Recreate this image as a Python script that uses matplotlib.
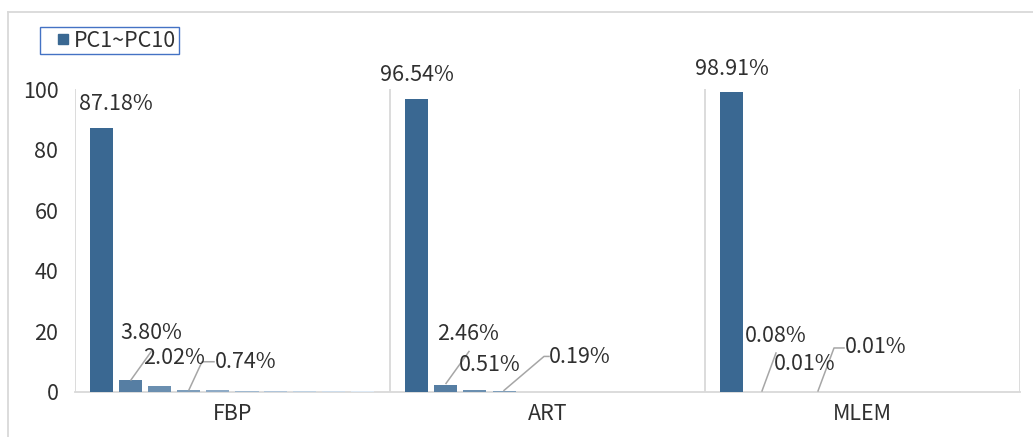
import numpy as np
import matplotlib.pyplot as plt
from matplotlib.lines import Line2D

plt.rcParams['font.family'] = ['Noto Sans CJK SC', 'DejaVu Sans']

# 数据
methods = ['FBP', 'ART', 'MLEM']
fbp = [87.18, 3.80, 2.02, 0.74, 0.55, 0.45, 0.40, 0.35, 0.30, 0.25]
art = [96.54, 2.46, 0.51, 0.19, 0.10, 0.06, 0.04, 0.03, 0.02, 0.01]
mlem = [98.91, 0.08, 0.01, 0.01, 0.005, 0.003, 0.002, 0.001, 0.001, 0.001]
legend_label = 'PC1~PC10'
yticks = [0, 20, 40, 60, 80, 100]

values = np.array([fbp, art, mlem])
n_pc = values.shape[1]

# 标签位置(像素偏移, 相对柱顶中心), 引导线折点
label_layout = [
    # FBP
    [(0, (14, 24), None),
     (1, (20, 47), None),
     (2, (14, 28), [(-29, 6), (-9, 34)]),
     (3, (57, 28), [(0, 0), (13, 28), (25, 28)])],
    # ART
    [(0, (0, 24), None),
     (1, (22, 51), None),
     (2, (15, 25), [(-29, 7), (-6, 39)]),
     (3, (76, 34), [(0, 1), (40, 35), (45, 35)])],
    # MLEM
    [(0, (0, 23), None),
     (1, (15, 56), None),
     (2, (15, 28), [(-28, 1), (-14, 39)]),
     (3, (57, 45), [(-1, 1), (15, 44), (25, 44)])],
]

FS = 15.5
TXT = '#303030'

W, H = 1033, 437
fig = plt.figure(figsize=(W / 100, H / 100), dpi=100)
ax = fig.add_axes([75 / W, 1 - 392 / H, 945 / W, 303 / H])

px_x = 945 / 3      # 每个类别的像素宽
px_y = 303 / 100    # 每单位y的像素

step = 29 / px_x
width = 23 / px_x
c0 = np.array([0x3A, 0x68, 0x92]) / 255
c1 = np.array([0xDD, 0xE9, 0xF5]) / 255
colors = [c0 + (c1 - c0) * t for t in np.linspace(0, 1, n_pc) ** 0.8]

xpos = np.arange(len(methods))
for j in range(n_pc):
    ax.bar(xpos + (j - (n_pc - 1) / 2) * step, values[:, j], width,
           color=colors[j], zorder=3)

ax.set_xlim(-0.5, 2.5)
ax.set_ylim(0, 100)
for xb in np.arange(-0.5, 3, 1):
    ax.axvline(xb, color='#D9D9D9', lw=1.3, zorder=1)
for s in ['top', 'right', 'left']:
    ax.spines[s].set_visible(False)
ax.spines['bottom'].set_color('#D9D9D9')
ax.spines['bottom'].set_linewidth(1.3)

ax.set_xticks(xpos, methods)
ax.set_yticks(yticks)
ax.tick_params(axis='both', length=0, labelsize=FS, labelcolor=TXT)
ax.tick_params(axis='x', pad=8)
ax.tick_params(axis='y', pad=12)

# 数据标签
for i, layout in enumerate(label_layout):
    for j, (dx, dy), leader in layout:
        xc = i + (j - (n_pc - 1) / 2) * step
        v = values[i, j]
        ax.annotate(f'{v:.2f}%', xy=(xc, v), xytext=(dx, dy),
                    textcoords='offset pixels', ha='center', va='center',
                    fontsize=FS, color=TXT, zorder=5)
        if leader:
            lx = [xc + p[0] / px_x for p in leader]
            ly = [v + p[1] / px_y for p in leader]
            ax.plot(lx, ly, color='#A6A6A6', lw=1.1, clip_on=False, zorder=4)

# 图例
handle = Line2D([], [], ls='none', marker='s', markersize=7.5,
                markerfacecolor=colors[0], markeredgecolor=colors[0])
ax.legend(handles=[handle], labels=[legend_label],
          loc='upper left', bbox_to_anchor=(40 / W, 1 - 27 / H),
          bbox_transform=fig.transFigure, borderaxespad=0, fontsize=FS,
          fancybox=False, edgecolor='#4472C4', framealpha=1,
          handlelength=1.9, handletextpad=-0.45, borderpad=0.12,
          labelcolor=TXT)

# 图表区边框
fig.add_artist(Line2D([8 / W, 1], [1 - 12 / H, 1 - 12 / H], color='#D9D9D9', lw=1.3))
fig.add_artist(Line2D([8 / W, 8 / W], [0, 1 - 12 / H], color='#D9D9D9', lw=1.3))

fig.savefig('out.png', dpi=100)
